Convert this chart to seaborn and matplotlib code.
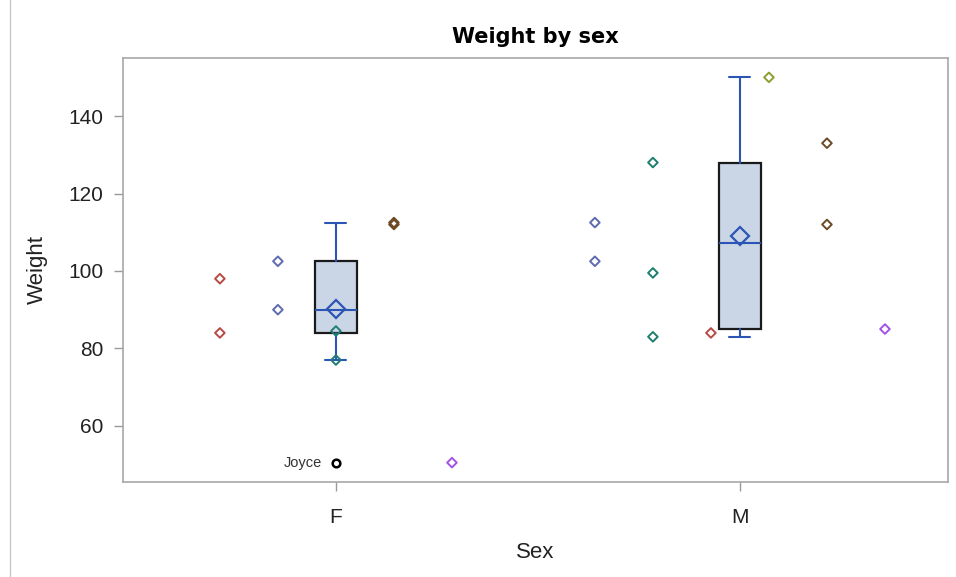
import numpy as np
import pandas as pd
import matplotlib
matplotlib.use("Agg")
import matplotlib.pyplot as plt
from matplotlib.lines import Line2D
import seaborn as sns

# ---- data (sashelp.class) ----
names = ["Alfred", "Alice", "Barbara", "Carol", "Henry", "James", "Jane", "Janet", "Jeffrey",
         "John", "Joyce", "Judy", "Louise", "Mary", "Philip", "Robert", "Ronald", "Thomas", "William"]
sex = ["M", "F", "F", "F", "M", "M", "F", "F", "M",
       "M", "F", "F", "F", "F", "M", "M", "M", "M", "M"]
age = [14, 13, 13, 14, 14, 12, 12, 15, 13,
       12, 11, 14, 12, 15, 16, 12, 15, 11, 15]
weight = [112.5, 84.0, 98.0, 102.5, 102.5, 83.0, 84.5, 112.5, 84.0,
          99.5, 50.5, 90.0, 77.0, 112.0, 150.0, 128.0, 133.0, 85.0, 112.0]
categories = ["F", "M"]
age_colors = {14: "#5E6BAE", 13: "#B84A44", 12: "#1F7F6F", 15: "#6B4A25", 11: "#A552E6", 16: "#8E9E30"}

df = pd.DataFrame({"Name": names, "Sex": sex, "Age": age, "Weight": weight})

# cluster positions: groups in order of appearance within each category
spacing = 0.1436
xpos = np.zeros(len(df))
for ci, cat in enumerate(categories):
    sub = df[df.Sex == cat]
    order = list(dict.fromkeys(sub.Age))
    n = len(order)
    for idx in sub.index:
        j = order.index(df.at[idx, "Age"])
        xpos[idx] = ci + (j - (n - 1) / 2) * spacing
df["X"] = xpos

sns.set_theme(style="white")
plt.rcParams["font.family"] = ["Liberation Sans", "DejaVu Sans"]

fig = plt.figure(figsize=(9.56, 5.77), dpi=100)
ax = fig.add_axes([123 / 956, 95 / 577, 825 / 956, 424 / 577])

# box stats (SAS default quantile definition)
stats = []
for cat in categories:
    w = np.sort(df[df.Sex == cat].Weight.values)
    q1, med, q3 = np.percentile(w, [25, 50, 75], method="averaged_inverted_cdf")
    iqr = q3 - q1
    lo_f, hi_f = q1 - 1.5 * iqr, q3 + 1.5 * iqr
    inside = w[(w >= lo_f) & (w <= hi_f)]
    stats.append(dict(med=med, q1=q1, q3=q3, whislo=inside.min(), whishi=inside.max(),
                      mean=w.mean(), fliers=w[(w < lo_f) | (w > hi_f)], label=cat))

blue = "#2A55B5"
ax.bxp(stats, positions=[0, 1], widths=0.104, capwidths=0.052, patch_artist=True,
       showmeans=True, showfliers=True, zorder=2,
       boxprops=dict(facecolor="#CAD5E5", edgecolor="#1a1a1a", linewidth=1.6),
       whiskerprops=dict(color=blue, linewidth=1.5),
       capprops=dict(color=blue, linewidth=1.5),
       medianprops=dict(color=blue, linewidth=1.5),
       meanprops=dict(marker="D", markerfacecolor="none", markeredgecolor=blue,
                      markeredgewidth=1.6, markersize=9.5),
       flierprops=dict(marker="o", markerfacecolor="none", markeredgecolor="black",
                       markeredgewidth=1.8, markersize=5.5))

# outlier labels
for ci, st in enumerate(stats):
    for v in st["fliers"]:
        nm = df[(df.Sex == categories[ci]) & (df.Weight == v)].Name.values[0]
        ax.annotate(nm, (ci, v), xytext=(-14, 0), textcoords="offset pixels",
                    ha="right", va="center", fontsize=10.5, color="#333333")

# grouped scatter
sns.scatterplot(data=df, x="X", y="Weight", hue="Age", palette=age_colors,
                marker="D", s=24, linewidth=1.4, legend=False, ax=ax, zorder=3)
coll = ax.collections[-1]
fcs = coll.get_facecolors()
coll.set_edgecolors(fcs)
coll.set_facecolors("none")

ax.set_xlim(-0.527, 1.515)
ax.set_ylim(45.5, 155)
ax.set_xticks([0, 1])
ax.set_xticklabels(categories)
ax.set_yticks([60, 80, 100, 120, 140])
ax.tick_params(axis="both", which="both", length=6.5, width=1, color="#9a9a9a",
               labelsize=15, labelcolor="#222222", pad=7.5, direction="out")
ax.tick_params(axis="x", bottom=True, pad=12)
ax.tick_params(axis="y", left=True)
for sp in ax.spines.values():
    sp.set_color("#a8a8a8")
    sp.set_linewidth(1.2)
ax.set_xlabel("Sex", fontsize=16, color="#222222", labelpad=11)
ax.set_ylabel("Weight", fontsize=16, color="#222222", labelpad=15)
ax.set_title("Weight by sex", fontsize=15, fontweight="bold", color="black", pad=11,
             family="DejaVu Sans")

fig.add_artist(Line2D([10 / 956, 10 / 956], [0, 1], color="#c8c8c8", linewidth=1))

fig.savefig("out.png", dpi=100)
